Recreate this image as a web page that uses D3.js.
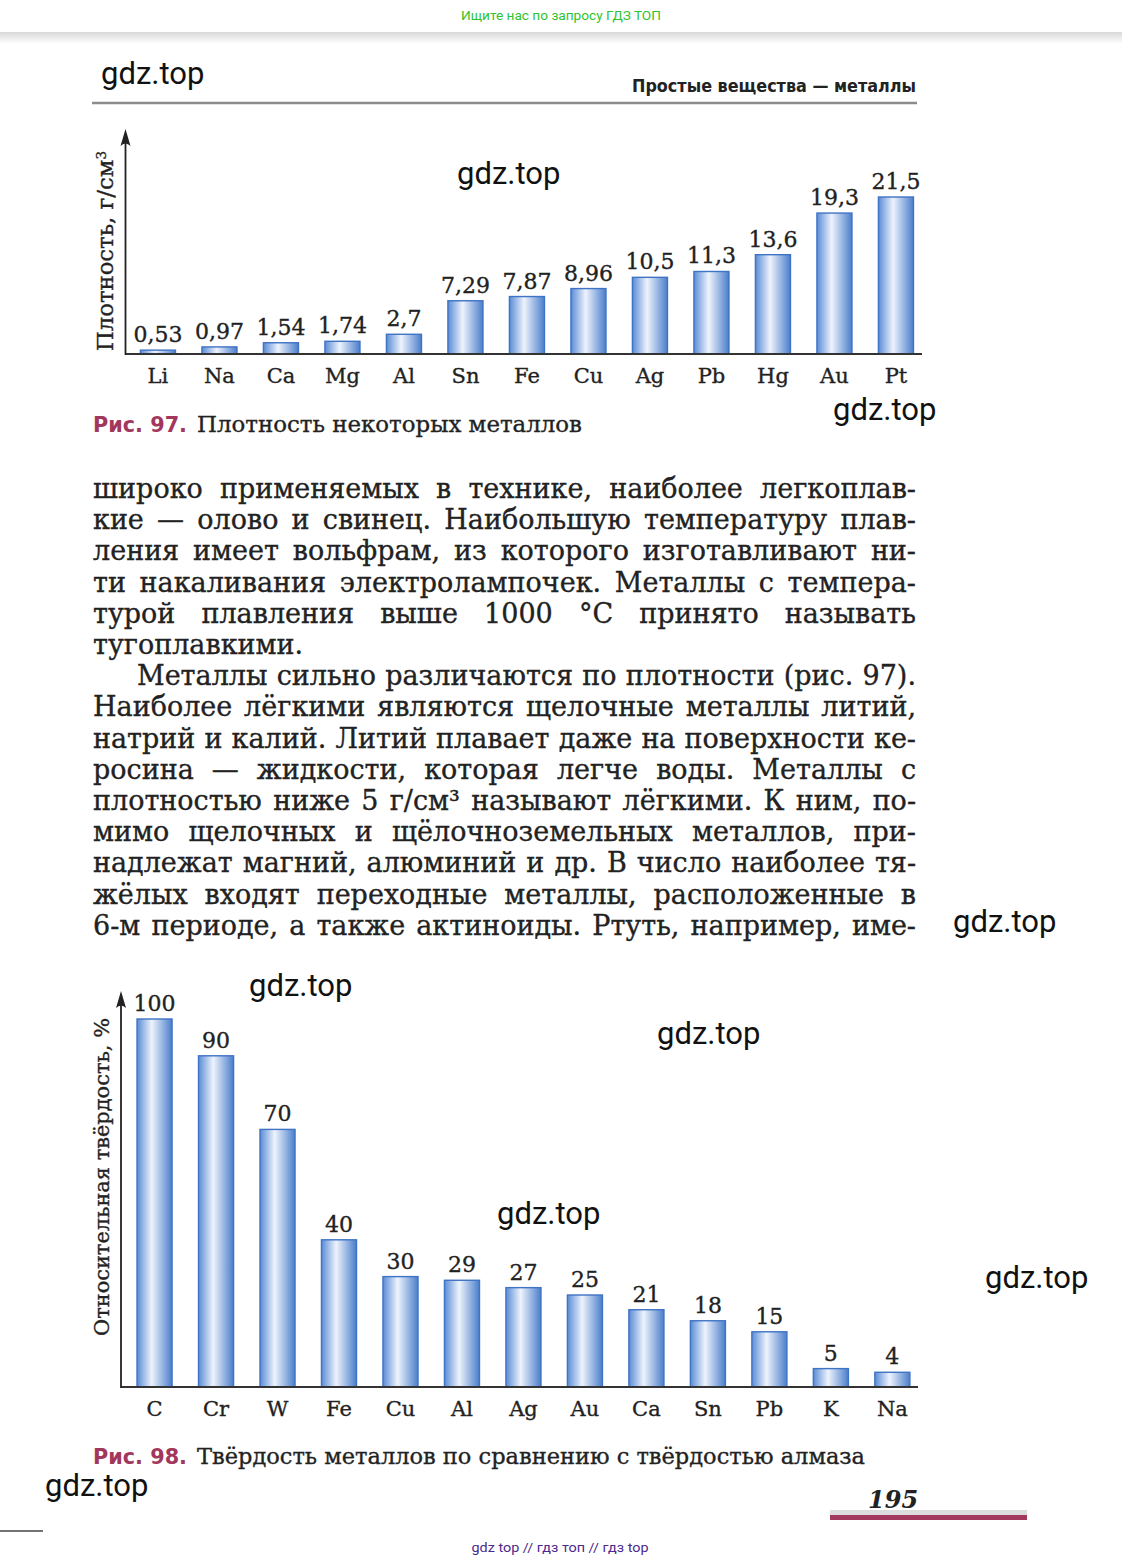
<!DOCTYPE html>
<html lang="ru">
<head>
<meta charset="utf-8">
<title>Плотность и твёрдость металлов</title>
<script src="https://cdnjs.cloudflare.com/ajax/libs/d3/7.8.5/d3.min.js"></script>
<style>
  body { margin: 0; background: #fff; }
  svg { display: block; }
  .serif { font-family: "DejaVu Serif", serif; fill: #222; stroke: #222; stroke-width: 0.35px; }
  .wm { font-family: Roboto, sans-serif; font-size: 31px; fill: #111; }
</style>
</head>
<body>
<svg id="page" width="1122" height="1565"></svg>
<script>
// --- data ---
const densityMetals = ["Li","Na","Ca","Mg","Al","Sn","Fe","Cu","Ag","Pb","Hg","Au","Pt"];
const densityValues = [0.53, 0.97, 1.54, 1.74, 2.7, 7.29, 7.87, 8.96, 10.5, 11.3, 13.6, 19.3, 21.5];

const hardnessMetals = ["C","Cr","W","Fe","Cu","Al","Ag","Au","Ca","Sn","Pb","K","Na"];
const hardnessValues = [100, 90, 70, 40, 30, 29, 27, 25, 21, 18, 15, 5, 4];

const bodyLines = [
  "широко применяемых в технике, наиболее легкоплав-",
  "кие — олово и свинец. Наибольшую температуру плав-",
  "ления имеет вольфрам, из которого изготавливают ни-",
  "ти накаливания электролампочек. Металлы с темпера-",
  "турой плавления выше 1000 °С принято называть",
  "тугоплавкими.",
  "Металлы сильно различаются по плотности (рис. 97).",
  "Наиболее лёгкими являются щелочные металлы литий,",
  "натрий и калий. Литий плавает даже на поверхности ке-",
  "росина — жидкости, которая легче воды. Металлы с",
  "плотностью ниже 5 г/см³ называют лёгкими. К ним, по-",
  "мимо щелочных и щёлочноземельных металлов, при-",
  "надлежат магний, алюминий и др. В число наиболее тя-",
  "жёлых входят переходные металлы, расположенные в",
  "6-м периоде, а также актиноиды. Ртуть, например, име-"
];

const svg = d3.select("#page");
const defs = svg.append("defs");

// cylinder-like bar fill
const grad = defs.append("linearGradient").attr("id", "barGrad")
    .attr("x1", "0").attr("x2", "1").attr("y1", "0").attr("y2", "0");
grad.append("stop").attr("offset", "0%").attr("stop-color", "#5a8cd6");
grad.append("stop").attr("offset", "42%").attr("stop-color", "#eef3fc");
grad.append("stop").attr("offset", "100%").attr("stop-color", "#4a7ecb");

const shadow = defs.append("linearGradient").attr("id", "topShadow")
    .attr("x1", "0").attr("x2", "0").attr("y1", "0").attr("y2", "1");
shadow.append("stop").attr("offset", "0%").attr("stop-color", "#d9d9d9");
shadow.append("stop").attr("offset", "100%").attr("stop-color", "#ffffff");

// --- site header / page header ---
svg.append("text")
    .attr("x", 561).attr("y", 20)
    .attr("text-anchor", "middle")
    .attr("textLength", 200).attr("lengthAdjust", "spacingAndGlyphs")
    .style("font-family", "Roboto, sans-serif").style("font-size", "13px")
    .style("fill", "#2fc42f")
    .text("Ищите нас по запросу ГДЗ ТОП");

svg.append("rect").attr("x", 0).attr("y", 32).attr("width", 1122).attr("height", 12)
    .attr("fill", "url(#topShadow)");

svg.append("text")
    .attr("x", 632).attr("y", 92)
    .attr("textLength", 284).attr("lengthAdjust", "spacingAndGlyphs")
    .style("font-family", "'DejaVu Sans', sans-serif").style("font-size", "17px")
    .style("font-weight", "bold").style("fill", "#222")
    .text("Простые вещества — металлы");

svg.append("line")
    .attr("x1", 92).attr("x2", 917).attr("y1", 103).attr("y2", 103)
    .attr("stroke", "#8c8c8c").attr("stroke-width", 2.5);

// --- bar chart helper ---
function barChart(cats, vals, o) {
  const g = svg.append("g");

  const x = d3.scaleBand()
      .domain(cats)
      .range(o.xRange)
      .paddingInner(0.43)
      .paddingOuter(0.215);

  const y = d3.scaleLinear()
      .domain([0, o.yMax])
      .range([o.base, o.yTop]);

  const data = cats.map((c, i) => ({ name: c, value: vals[i] }));

  g.selectAll("rect.bar")
    .data(data)
    .join("rect")
      .attr("class", "bar")
      .attr("x", d => x(d.name))
      .attr("y", d => y(d.value))
      .attr("width", x.bandwidth())
      .attr("height", d => o.base - y(d.value))
      .attr("fill", "url(#barGrad)")
      .attr("stroke", "#3f73c4")
      .attr("stroke-width", 1.4);

  g.selectAll("text.val")
    .data(data)
    .join("text")
      .attr("class", "val serif")
      .attr("x", d => x(d.name) + x.bandwidth() / 2)
      .attr("y", d => y(d.value) - 8)
      .attr("text-anchor", "middle")
      .style("font-size", "22px")
      .text(d => String(d.value).replace(".", ","));

  // category axis
  const ax = g.append("g")
      .attr("transform", `translate(0,${o.base})`)
      .call(d3.axisBottom(x).tickSize(0));
  ax.select(".domain").remove();
  ax.selectAll("text")
      .attr("class", "serif")
      .attr("y", 29).attr("dy", 0)
      .style("font-size", "21px");

  // baseline
  g.append("line")
      .attr("x1", o.axisX).attr("x2", o.baseEnd)
      .attr("y1", o.base).attr("y2", o.base)
      .attr("stroke", "#333").attr("stroke-width", 2);

  // vertical axis with arrow
  g.append("line")
      .attr("x1", o.axisX).attr("x2", o.axisX)
      .attr("y1", o.base + 1).attr("y2", o.tip + 8)
      .attr("stroke", "#222").attr("stroke-width", 1.8);
  g.append("path")
      .attr("d", `M${o.axisX},${o.tip} L${o.axisX - 5},${o.tip + 17} Q${o.axisX},${o.tip + 12} ${o.axisX + 5},${o.tip + 17} Z`)
      .attr("fill", "#222");

  // y label
  const yl = g.append("text")
      .attr("class", "serif")
      .attr("transform", `translate(${o.labelX},${o.labelY0}) rotate(-90)`)
      .attr("textLength", o.labelLen).attr("lengthAdjust", "spacingAndGlyphs")
      .style("font-size", o.labelSize + "px");
  yl.append("tspan").text(o.label);
  if (o.labelSup) {
    yl.append("tspan").attr("baseline-shift", "super").style("font-size", "13px").text(o.labelSup);
  }
  return g;
}

barChart(densityMetals, densityValues, {
  xRange: [127.2, 926.7], yMax: 21.5, base: 354, yTop: 197,
  axisX: 125.5, baseEnd: 922, tip: 129,
  label: "Плотность, г/см", labelSup: "3",
  labelX: 113, labelY0: 351, labelLen: 200, labelSize: 22
});

barChart(hardnessMetals, hardnessValues, {
  xRange: [123.8, 923.1], yMax: 100, base: 1387, yTop: 1019,
  axisX: 121, baseEnd: 918, tip: 991,
  label: "Относительная твёрдость, %", labelSup: null,
  labelX: 109, labelY0: 1336, labelLen: 318, labelSize: 21
});

// --- figure captions ---
function caption(yBase, num, txt, len) {
  svg.append("text")
      .attr("x", 93).attr("y", yBase)
      .attr("textLength", 94).attr("lengthAdjust", "spacingAndGlyphs")
      .style("font-family", "'DejaVu Sans', sans-serif").style("font-size", "21px")
      .style("font-weight", "bold").style("fill", "#a3365c")
      .text(num);
  svg.append("text")
      .attr("class", "serif")
      .attr("x", 197).attr("y", yBase)
      .attr("textLength", len).attr("lengthAdjust", "spacingAndGlyphs")
      .style("font-size", "22.5px")
      .text(txt);
}
caption(432, "Рис. 97.", "Плотность некоторых металлов", 385);
caption(1464, "Рис. 98.", "Твёрдость металлов по сравнению с твёрдостью алмаза", 668);

// --- body text (justified by word spacing) ---
const textLeft = 93, textRight = 916, firstBase = 498, lead = 31.2;
const noJustify = new Set([5]);
const indented = new Set([6]);
const body = svg.append("g").attr("class", "serif").style("font-size", "27px");

bodyLines.forEach((line, i) => {
  const yb = firstBase + i * lead;
  const x0 = textLeft + (indented.has(i) ? 44 : 0);
  const words = line.split(" ");
  const t = body.append("text").attr("y", yb);
  const spans = words.map(w => t.append("tspan").text(w));
  const widths = spans.map(s => s.node().getComputedTextLength());
  const total = d3.sum(widths);
  let gap = noJustify.has(i) ? 7 : (textRight - x0 - total) / (words.length - 1);
  let sx = 1;
  if (gap < 5) { sx = (textRight - x0) / (total + 5 * (words.length - 1)); gap = 5; }
  let cx = 0;
  spans.forEach((s, k) => { s.attr("x", cx); cx += widths[k] + gap; });
  t.attr("transform", `translate(${x0},0) scale(${sx},1)`);
});

// --- page number ---
svg.append("text")
    .attr("x", 868).attr("y", 1508)
    .style("font-family", "'DejaVu Serif', serif").style("font-size", "24px")
    .style("font-style", "italic").style("font-weight", "bold").style("fill", "#222")
    .text("195");
svg.append("rect").attr("x", 830).attr("y", 1510).attr("width", 197).attr("height", 5).attr("fill", "#dcdcdc");
svg.append("rect").attr("x", 830).attr("y", 1515).attr("width", 197).attr("height", 5).attr("fill", "#a3385e");

svg.append("line").attr("x1", 0).attr("x2", 43).attr("y1", 1531).attr("y2", 1531)
    .attr("stroke", "#444").attr("stroke-width", 1.5);

// --- footer ---
svg.append("text")
    .attr("x", 560).attr("y", 1552)
    .attr("text-anchor", "middle")
    .attr("textLength", 177).attr("lengthAdjust", "spacingAndGlyphs")
    .style("font-family", "Roboto, sans-serif").style("font-size", "13px")
    .style("fill", "#4b2a8c")
    .text("gdz top  //  гдз топ  //  гдз top");

// --- watermarks ---
const marks = [[101, 84], [457, 184], [833, 420], [953, 932], [249, 996], [657, 1044], [497, 1224], [985, 1288], [45, 1496]];
svg.selectAll("text.wm")
  .data(marks)
  .join("text")
    .attr("class", "wm")
    .attr("x", d => d[0]).attr("y", d => d[1])
    .text("gdz.top");
</script>
</body>
</html>
